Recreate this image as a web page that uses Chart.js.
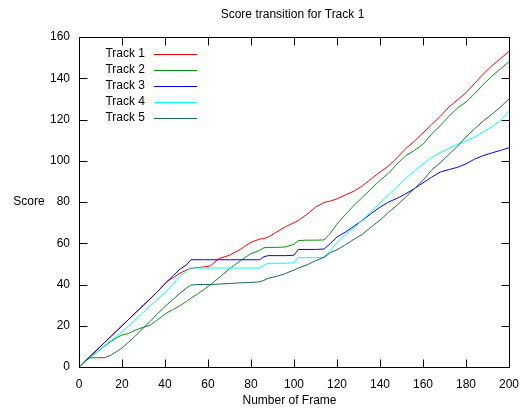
<!DOCTYPE html>
<html>
<head>
<meta charset="utf-8">
<title>Score transition for Track 1</title>
<script src="https://cdn.jsdelivr.net/npm/chart.js@4/dist/chart.umd.min.js"></script>
<style>
  html, body { margin: 0; padding: 0; background: #fff; }
  #wrap { width: 524px; height: 409px; }
</style>
</head>
<body>
<div id="wrap"><canvas id="chart" width="524" height="409"></canvas></div>
<script>
// Frame numbers shared by every track
const frames = [0,3,5,8,12,15,18,20,23,26, 30,33,36,41,44,47,50,52,55,58,
  61,65,70,75,80,84,86,88,92,96, 100,102,106,110,114,117,120,124,128,132,
  136,140,144,148,152,156,160,164,168,172, 176,180,184,188,192,196,200];

// Score of each track at those frames
const track1 = [0,3,5,8,12,15,18,20,23,26, 30,33,36,41.5,43.5,45.5,47,47.8,48.2,48.5,
  49,52.5,54.2,57,60.5,62,62.3,63,65.5,68, 70,71,74,77.5,79.8,80.5,81.5,83.5,85.3,88,
  91.3,94.5,97.5,101.5,106,109.5,113.5,117.5,121.5,126, 129.5,133,137.5,142,146,149.5,153];
const track2 = [0,3,4.5,7,10.3,12.5,14.5,15.5,16.2,17.8, 19.3,20.2,22.5,26.3,28,29.8,31.8,33.3,35.3,37.5,
  39.8,43.2,47.6,51.5,55,56.5,57.8,58,58,58.2, 59.5,61.3,61.5,61.5,61.6,65,69.3,74,78.5,82.5,
  86.5,90.5,94,98.5,102.5,105,108,113,117,121.5, 125.5,128.5,132.5,137,141,144.5,148];
const track3 = [0,3,5,8,12,15,18,20,23,26, 30,33,36,41.5,44.5,47.5,49.5,52,52,52,
  52,52,52,52,52,52,53.5,54,54,54, 54.2,57,57,57,57.2,60,63,65.5,68.3,71.3,
  74.5,77.5,80,81.8,84,86.5,89.3,92,94.5,95.7, 96.8,98.5,100.8,102.5,103.8,105,106.3];
const track4 = [0,2.8,4.5,7,10.5,13,15.3,17,19.8,22.7, 26.5,29.5,32.3,37,40.5,44,46.5,48,48,48,
  48,48,48,48,48,48,49.5,50.3,50.3,50.3, 50.5,53,53,53,53.2,56.5,60.3,64.5,67.5,71.5,
  75.5,79.5,83.5,87.5,91.5,95,98.5,101.5,104,106, 108,109.5,111.5,114,116.5,119.5,124];
const track5 = [0,3,4.4,4.5,4.5,5.8,7.8,9.2,12,14.8, 19,22,25.3,30.3,33,35.8,38.3,39.7,40,40,
  40,40.2,40.5,40.8,41,41.3,42,43,44,45.3, 47,48,49.5,51.5,53.2,55.5,56.8,59.3,62,64.5,
  68,71.2,75,78.5,82.5,86.5,90.5,95.5,99,103, 107,111.5,115.5,119.2,122.5,126,130];

const seriesNames = ['Track 1', 'Track 2', 'Track 3', 'Track 4', 'Track 5'];
const seriesValues = [track1, track2, track3, track4, track5];
const seriesColors = ['#ff0000', '#0a930a', '#0000ff', '#00ffff', '#1b6e47'];

const xTicks = [0, 20, 40, 60, 80, 100, 120, 140, 160, 180, 200];
const yTicks = [0, 20, 40, 60, 80, 100, 120, 140, 160];

const FONT = '"Liberation Sans", Arial, Helvetica, sans-serif';
Chart.defaults.font.family = FONT;
Chart.defaults.font.size = 12;
Chart.defaults.color = '#000';

const datasets = seriesNames.map((name, i) => ({
  label: name,
  data: frames.map((f, k) => ({ x: f, y: seriesValues[i][k] })),
  borderColor: seriesColors[i],
  backgroundColor: seriesColors[i],
  borderWidth: 1,
  pointRadius: 0,
  tension: 0,
  fill: false,
  // later tracks are painted over earlier ones
  order: seriesNames.length - i
}));

// Box frame, inward ticks on all four sides, titles and the key
const decor = {
  id: 'decor',
  afterDatasetsDraw(chart) {
    const { ctx, chartArea: a, scales } = chart;
    const xs = scales.x, ys = scales.y;
    const L = Math.round(a.left) + 0.5, R = Math.round(a.right) + 0.5;
    const T = Math.round(a.top) + 0.5, B = Math.round(a.bottom) + 0.5;
    const tl = 8;
    ctx.save();
    ctx.strokeStyle = '#000';
    ctx.lineWidth = 1;
    ctx.beginPath();
    xTicks.forEach(v => {
      const px = Math.round(xs.getPixelForValue(v)) + 0.5;
      ctx.moveTo(px, B); ctx.lineTo(px, B - tl);
      ctx.moveTo(px, T); ctx.lineTo(px, T + tl);
    });
    yTicks.forEach(v => {
      const py = Math.round(ys.getPixelForValue(v)) + 0.5;
      ctx.moveTo(L, py); ctx.lineTo(L + tl, py);
      ctx.moveTo(R, py); ctx.lineTo(R - tl, py);
    });
    ctx.stroke();
    ctx.strokeRect(L, T, R - L, B - T);

    ctx.fillStyle = '#000';
    ctx.font = '12px ' + FONT;
    ctx.textBaseline = 'middle';
    const cx = (a.left + a.right) / 2;
    ctx.textAlign = 'center';
    ctx.fillText('Score transition for Track 1', cx - 1.5, 14.5);
    ctx.fillText('Number of Frame', cx - 4.5, 401);
    ctx.fillText('Score', 29, (a.top + a.bottom) / 2);

    // key: label on the left, line sample on the right
    seriesNames.forEach((name, i) => {
      const y = 53.5 + 16 * i;
      ctx.textAlign = 'right';
      ctx.fillStyle = '#000';
      ctx.fillText(name, 145, y);
      ctx.strokeStyle = seriesColors[i];
      ctx.beginPath();
      ctx.moveTo(154, Math.round(y) + 0.5);
      ctx.lineTo(197, Math.round(y) + 0.5);
      ctx.stroke();
    });
    ctx.restore();
  }
};

new Chart(document.getElementById('chart'), {
  type: 'line',
  data: { datasets },
  options: {
    responsive: false,
    animation: false,
    devicePixelRatio: 1,
    layout: { padding: { top: 37, right: 15, left: 0, bottom: 0 } },
    plugins: { legend: { display: false }, title: { display: false }, tooltip: { enabled: false } },
    scales: {
      x: {
        type: 'linear', min: 0, max: 200,
        afterFit: s => { s.height = 42; s.paddingLeft = 0; s.paddingRight = 0; },
        afterBuildTicks: s => { s.ticks = xTicks.map(v => ({ value: v })); },
        grid: { display: false, drawTicks: false },
        border: { display: false },
        ticks: { padding: 10, maxRotation: 0, autoSkip: false, font: { size: 12 } }
      },
      y: {
        type: 'linear', min: 0, max: 160,
        afterFit: s => { s.width = 79; s.paddingTop = 0; s.paddingBottom = 0; },
        afterBuildTicks: s => { s.ticks = yTicks.map(v => ({ value: v })); },
        grid: { display: false, drawTicks: false },
        border: { display: false },
        ticks: { padding: 9, autoSkip: false, font: { size: 12 } }
      }
    }
  },
  plugins: [decor]
});
</script>
</body>
</html>
